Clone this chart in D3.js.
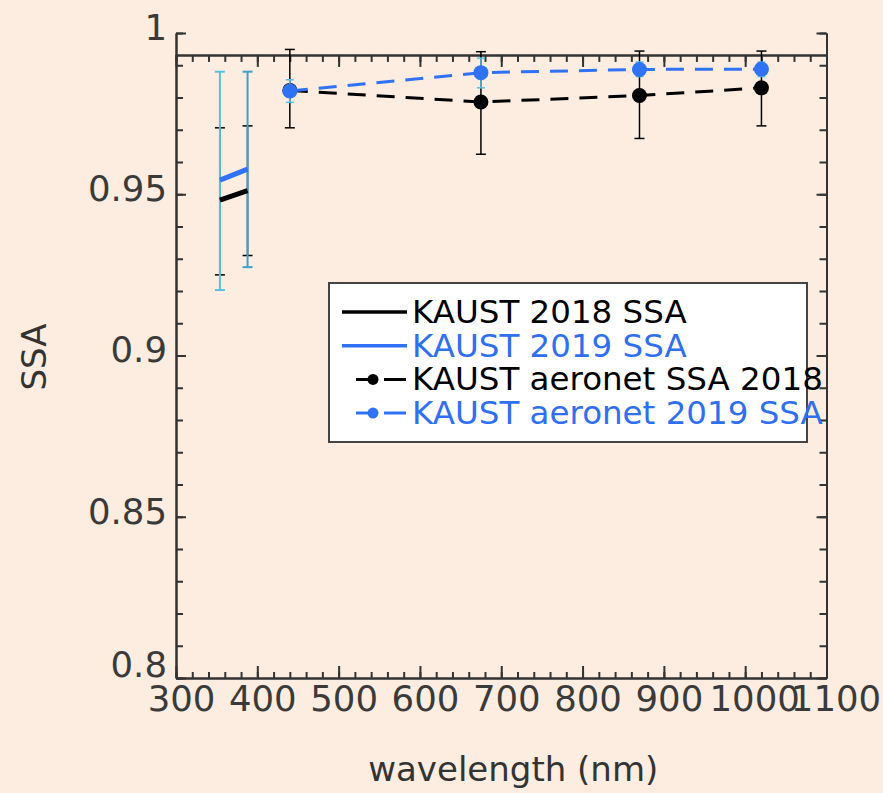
<!DOCTYPE html>
<html>
<head>
<meta charset="utf-8">
<script src="https://cdn.jsdelivr.net/npm/d3@7"></script>
<style>
  body { margin: 0; background: #fcede0; }
  svg { display: block; font-family: "DejaVu Sans", sans-serif; }
  .axis path, .axis line { stroke: #333; stroke-width: 2; }
  .axis text { fill: #3a3a3a; font-size: 35.5px; font-family: "DejaVu Sans", sans-serif; }
</style>
</head>
<body>
<div id="chart"></div>
<script>
// UV retrieval wavelengths (solid lines)
const uvWavelengths = [354, 388];
const ssa2018 = [0.9482, 0.9511];
const ssa2018Low = [0.925, 0.931];
const ssa2018High = [0.9706, 0.9712];
const ssa2019 = [0.9544, 0.9578];
const ssa2019Low = [0.9203, 0.9274];
const ssa2019High = [0.988, 0.988];

// AERONET wavelengths (dashed lines with markers)
const aeronetWavelengths = [440, 675, 870, 1020];
const aeronet2018 = [0.9822, 0.9786, 0.9806, 0.983];
const aeronet2018Low = [0.9706, 0.9624, 0.9673, 0.9712];
const aeronet2018High = [0.9949, 0.9942, 0.9944, 0.9944];
const aeronet2019 = [0.982, 0.9877, 0.9887, 0.9888];
const aeronet2019Low = [0.9785, 0.983, 0.9865, 0.9865];
const aeronet2019High = [0.9855, 0.9922, 0.991, 0.991];

const xTickValues = [300, 400, 500, 600, 700, 800, 900, 1000, 1100];
const yTickValues = [0.8, 0.85, 0.9, 0.95, 1];
const topAxisAt = 0.9932;

const legendLabels = ["KAUST 2018 SSA", "KAUST 2019 SSA", "KAUST aeronet SSA 2018", "KAUST aeronet 2019 SSA"];
const legendColors = ["#000", "#2f6ff0", "#000", "#2f6ff0"];
const legendMarkers = [false, false, true, true];

const black = "#000";
const blue = "#2f72f5";
const cyan = ["#58c0e2", "#419fc9"];

const width = 883, height = 793;

const x = d3.scaleLinear().domain([300, 1100]).range([176, 826.5]);
const y = d3.scaleLinear().domain([0.8, 1]).range([678, 33]);

const svg = d3.select("#chart").append("svg")
  .attr("width", width)
  .attr("height", height);

svg.append("rect")
  .attr("width", width)
  .attr("height", height)
  .attr("fill", "#fcede0");

const zip = (ws, vs, lo, hi) => ws.map((w, i) => ({ w: w, v: vs[i], lo: lo[i], hi: hi[i] }));

// Axes
const minorX = d3.range(300, 1101, 20);
const minorY = d3.range(0, 21).map(i => +(0.8 + i * 0.01).toFixed(2));

svg.append("g").attr("class", "axis")
  .attr("transform", `translate(0,${y(0.8)})`)
  .call(d3.axisBottom(x).tickValues(minorX).tickSize(-6).tickSizeOuter(0).tickFormat(""));

svg.append("g").attr("class", "axis")
  .attr("transform", `translate(0,${y(0.8)})`)
  .call(d3.axisBottom(x).tickValues(xTickValues).tickSize(-12).tickSizeOuter(0).tickPadding(8)
    .tickFormat(d3.format("d")))
  .call(g => g.selectAll("text").attr("dx", d => d >= 1000 ? 9 : 5));

svg.append("g").attr("class", "axis")
  .attr("transform", `translate(0,${y(topAxisAt)})`)
  .call(d3.axisTop(x).tickValues(minorX).tickSize(-7).tickSizeOuter(0).tickFormat(""));

svg.append("g").attr("class", "axis")
  .attr("transform", `translate(0,${y(topAxisAt)})`)
  .call(d3.axisTop(x).tickValues(xTickValues).tickSize(-12).tickSizeOuter(0).tickFormat(""));

svg.append("g").attr("class", "axis")
  .attr("transform", `translate(${x(300)},0)`)
  .call(d3.axisLeft(y).tickValues(minorY).tickSize(-7).tickSizeOuter(0).tickFormat(""));

svg.append("g").attr("class", "axis")
  .attr("transform", `translate(${x(300)},0)`)
  .call(d3.axisLeft(y).tickValues(yTickValues).tickSize(-10).tickSizeOuter(0).tickPadding(9)
    .tickFormat(d => String(+d.toFixed(2))))
  .call(g => g.selectAll("text").attr("dy", d => d === 0.8 ? "-0.05em" : "0.18em"));

svg.append("g").attr("class", "axis")
  .attr("transform", `translate(${x(1100)},0)`)
  .call(d3.axisRight(y).tickValues(minorY).tickSize(-7).tickSizeOuter(0).tickFormat(""));

svg.append("g").attr("class", "axis")
  .attr("transform", `translate(${x(1100)},0)`)
  .call(d3.axisRight(y).tickValues(yTickValues).tickSize(-10).tickSizeOuter(0).tickFormat(""));

// Axis titles
svg.append("text")
  .attr("x", x(700) + 12)
  .attr("y", 781)
  .attr("text-anchor", "middle")
  .attr("fill", "#333")
  .style("font-size", "34px")
  .text("wavelength (nm)");

svg.append("text")
  .attr("transform", `translate(46,357) rotate(-90)`)
  .attr("text-anchor", "middle")
  .attr("fill", "#333")
  .style("font-size", "34px")
  .text("SSA");

// Error bars
function errorBars(data, color, strokeWidth, cap) {
  const colorOf = (d, i) => Array.isArray(color) ? color[i] : color;
  const g = svg.append("g").attr("stroke-width", strokeWidth);
  g.selectAll(".bar").data(data).enter().append("line")
    .attr("stroke", colorOf)
    .attr("x1", d => x(d.w)).attr("x2", d => x(d.w))
    .attr("y1", d => y(d.lo)).attr("y2", d => y(d.hi));
  g.selectAll(".capLo").data(data).enter().append("line")
    .attr("stroke", colorOf)
    .attr("x1", d => x(d.w) - cap).attr("x2", d => x(d.w) + cap)
    .attr("y1", d => y(d.lo)).attr("y2", d => y(d.lo));
  g.selectAll(".capHi").data(data).enter().append("line")
    .attr("stroke", colorOf)
    .attr("x1", d => x(d.w) - cap).attr("x2", d => x(d.w) + cap)
    .attr("y1", d => y(d.hi)).attr("y2", d => y(d.hi));
}

const line = d3.line().x(d => x(d.w)).y(d => y(d.v));

const uv2018 = zip(uvWavelengths, ssa2018, ssa2018Low, ssa2018High);
const uv2019 = zip(uvWavelengths, ssa2019, ssa2019Low, ssa2019High);
const aer2018 = zip(aeronetWavelengths, aeronet2018, aeronet2018Low, aeronet2018High);
const aer2019 = zip(aeronetWavelengths, aeronet2019, aeronet2019Low, aeronet2019High);

errorBars(uv2018, black, 1.5, 5);
errorBars(uv2019, cyan, 2, 5);

svg.append("path").datum(uv2018)
  .attr("d", line).attr("fill", "none")
  .attr("stroke", black).attr("stroke-width", 5);
svg.append("path").datum(uv2019)
  .attr("d", line).attr("fill", "none")
  .attr("stroke", blue).attr("stroke-width", 5);

// AERONET 2018
errorBars(aer2018, black, 1.5, 5);
svg.append("path").datum(aer2018)
  .attr("d", line).attr("fill", "none")
  .attr("stroke", black).attr("stroke-width", 3)
  .attr("stroke-dasharray", "18,11");
svg.append("g").selectAll("circle").data(aer2018).enter().append("circle")
  .attr("cx", d => x(d.w)).attr("cy", d => y(d.v)).attr("r", 7.5)
  .attr("fill", black);

// AERONET 2019
svg.append("path").datum(aer2019)
  .attr("d", line).attr("fill", "none")
  .attr("stroke", blue).attr("stroke-width", 3)
  .attr("stroke-dasharray", "18,11");
errorBars(aer2019, cyan[0], 1.5, 4);
svg.append("g").selectAll("circle").data(aer2019).enter().append("circle")
  .attr("cx", d => x(d.w)).attr("cy", d => y(d.v)).attr("r", 7.5)
  .attr("fill", blue);

// Legend
const legend = svg.append("g").attr("transform", "translate(329,283)");
legend.append("rect")
  .attr("width", 478).attr("height", 159)
  .attr("fill", "#fff").attr("stroke", "#444").attr("stroke-width", 2);

const rows = legend.selectAll(".row")
  .data(legendLabels)
  .enter().append("g")
  .attr("transform", (d, i) => `translate(0,${40 + i * 33.7})`);

rows.append("text")
  .attr("x", 83)
  .attr("fill", (d, i) => legendColors[i])
  .style("font-size", "32.5px")
  .text(d => d);

rows.filter((d, i) => !legendMarkers[i]).append("line")
  .attr("x1", 13).attr("x2", 78)
  .attr("y1", -11).attr("y2", -11)
  .attr("stroke", (d, i) => legendColors[i] === "#000" ? black : blue)
  .attr("stroke-width", 3.5);

const markerRows = rows.filter((d, i) => legendMarkers[i]);
markerRows.append("line")
  .attr("x1", 27).attr("x2", 77)
  .attr("y1", -11).attr("y2", -11)
  .attr("stroke", (d, i) => i === 0 ? black : blue)
  .attr("stroke-width", 3)
  .attr("stroke-dasharray", "22,6,22");
markerRows.append("circle")
  .attr("cx", 44).attr("cy", -11).attr("r", 5.5)
  .attr("fill", (d, i) => i === 0 ? black : blue);
</script>
</body>
</html>
